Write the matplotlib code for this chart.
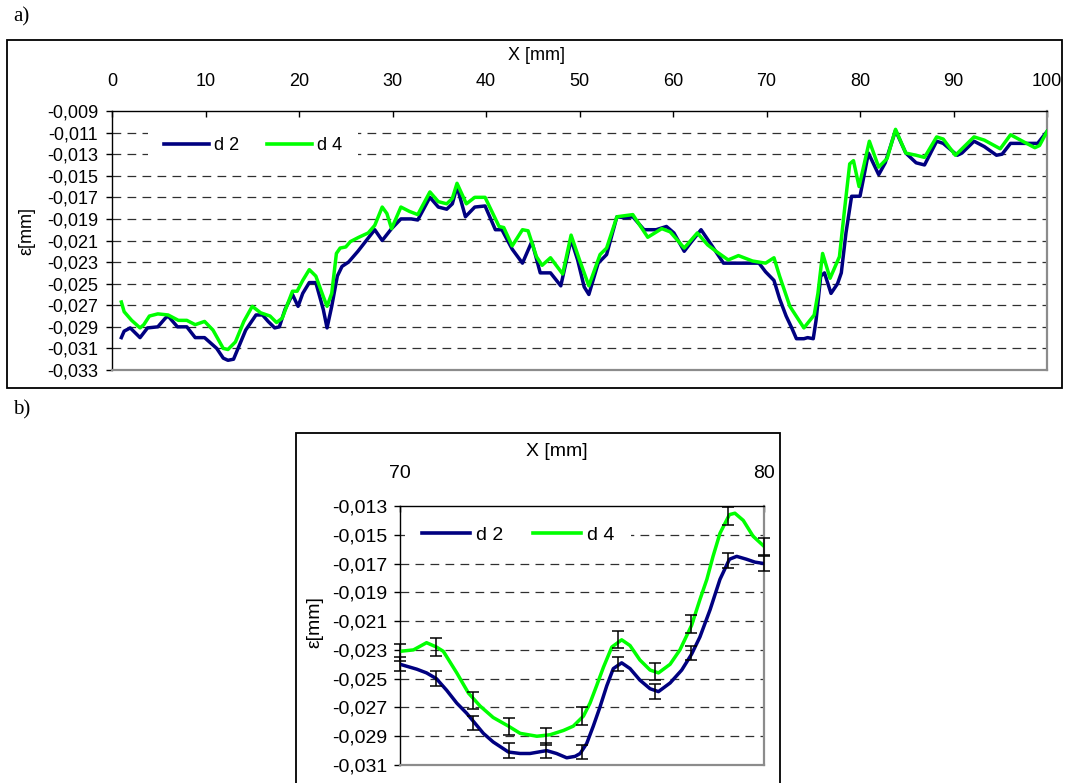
import matplotlib
matplotlib.use('Agg')
import matplotlib.pyplot as plt
from matplotlib.patches import Rectangle
from matplotlib.lines import Line2D
from matplotlib.ticker import FuncFormatter

plt.rcParams['font.family'] = ['Liberation Sans', 'DejaVu Sans']

# ---------------- data: chart a) ----------------
x_d2 = [1.0, 1.3, 1.95, 3.0, 3.8, 4.9, 5.7, 6.0, 7.0, 8.0,
        8.9, 9.9, 11.2, 11.9, 12.4, 13.0, 14.3, 15.4, 16.1, 16.7,
        17.4, 17.9, 18.5, 19.3, 19.9, 20.4, 21.1, 21.8, 22.6, 23.0,
        23.5, 24.1, 24.6, 25.3, 26.3, 27.2, 28.1, 28.9, 29.9, 30.9,
        32.0, 32.7, 34.0, 34.9, 35.8, 36.4, 36.9, 37.8, 38.8, 39.9,
        41.0, 41.7, 42.8, 43.9, 44.9, 45.8, 46.9, 48.0, 49.1, 49.8,
        50.5, 51.0, 52.0, 52.9, 54.0, 54.9, 55.7, 56.9, 58.2, 59.3,
        60.1, 61.2, 61.9, 63.0, 64.1, 65.4, 66.6, 68.1, 69.2, 69.9,
        70.8, 71.4, 72.1, 72.7, 73.2, 74.0, 74.4, 75.0, 75.3, 75.8,
        76.2, 76.9, 77.6, 78.0, 78.5, 79.1, 80.0, 80.9, 82.0, 82.7,
        83.8, 84.9, 86.0, 86.9, 88.2, 88.9, 90.4, 90.9, 92.2, 93.3,
        94.6, 95.2, 96.1, 97.4, 98.7, 99.0, 100.0]
d2 = [-0.0300, -0.0294, -0.0291, -0.0300, -0.0291, -0.0290, -0.0282, -0.0280, -0.0290, -0.0290,
      -0.0300, -0.0300, -0.0310, -0.0319, -0.0321, -0.0320, -0.0293, -0.0279, -0.0279, -0.0285,
      -0.0291, -0.0290, -0.0274, -0.0260, -0.0271, -0.0259, -0.0249, -0.0249, -0.0274, -0.0291,
      -0.0271, -0.0243, -0.0234, -0.0230, -0.0220, -0.0210, -0.0200, -0.0210, -0.0199, -0.0190,
      -0.0190, -0.0191, -0.0170, -0.0179, -0.0181, -0.0176, -0.0160, -0.0188, -0.0179, -0.0178,
      -0.0200, -0.0200, -0.0218, -0.0231, -0.0211, -0.0240, -0.0240, -0.0252, -0.0209, -0.0228,
      -0.0253, -0.0260, -0.0231, -0.0223, -0.0188, -0.0189, -0.0188, -0.0200, -0.0200, -0.0197,
      -0.0203, -0.0220, -0.0212, -0.0200, -0.0214, -0.0231, -0.0231, -0.0231, -0.0231, -0.0239,
      -0.0247, -0.0264, -0.0280, -0.0291, -0.0301, -0.0301, -0.0300, -0.0301, -0.0284, -0.0243,
      -0.0240, -0.0259, -0.0250, -0.0240, -0.0203, -0.0169, -0.0169, -0.0129, -0.0149, -0.0138,
      -0.0108, -0.0129, -0.0138, -0.0140, -0.0118, -0.0120, -0.0131, -0.0129, -0.0118, -0.0123,
      -0.0131, -0.0130, -0.0120, -0.0120, -0.0120, -0.0120, -0.0109]

x_d4 = [1.0, 1.3, 2.1, 3.0, 3.4, 4.0, 4.9, 6.0, 7.1, 8.0,
        8.9, 9.9, 10.8, 11.9, 12.4, 13.2, 14.1, 15.0, 15.9, 16.9,
        17.6, 18.2, 19.3, 19.8, 20.4, 21.1, 21.8, 22.6, 23.0, 23.5,
        24.0, 24.4, 25.0, 25.5, 26.4, 27.4, 28.1, 28.9, 29.4, 29.9,
        30.9, 31.8, 32.7, 34.0, 34.9, 35.8, 36.4, 36.9, 37.9, 38.8,
        39.9, 41.4, 41.9, 42.8, 43.9, 44.5, 45.4, 46.0, 46.9, 48.2,
        49.1, 50.0, 51.0, 52.2, 52.9, 54.0, 55.7, 57.3, 58.8, 59.7,
        61.2, 62.6, 63.7, 64.6, 65.9, 67.0, 68.5, 69.9, 70.8, 71.4,
        72.5, 74.0, 75.1, 75.5, 76.0, 76.8, 77.8, 78.3, 78.9, 79.3,
        79.9, 81.0, 82.0, 82.9, 83.8, 84.9, 86.0, 86.9, 88.2, 88.9,
        90.2, 92.2, 93.3, 95.0, 96.1, 97.6, 98.7, 99.2, 100.0]
d4 = [-0.0267, -0.0276, -0.0284, -0.0291, -0.0288, -0.0280, -0.0278, -0.0279, -0.0284, -0.0284,
      -0.0288, -0.0285, -0.0293, -0.0310, -0.0311, -0.0304, -0.0285, -0.0271, -0.0277, -0.0280,
      -0.0286, -0.0282, -0.0257, -0.0257, -0.0247, -0.0237, -0.0243, -0.0262, -0.0271, -0.0259,
      -0.0222, -0.0217, -0.0216, -0.0211, -0.0207, -0.0203, -0.0196, -0.0179, -0.0185, -0.0199,
      -0.0179, -0.0183, -0.0186, -0.0165, -0.0174, -0.0176, -0.0171, -0.0157, -0.0176, -0.0170,
      -0.0170, -0.0197, -0.0198, -0.0215, -0.0200, -0.0201, -0.0225, -0.0233, -0.0226, -0.0241,
      -0.0205, -0.0228, -0.0252, -0.0223, -0.0217, -0.0188, -0.0186, -0.0207, -0.0199, -0.0202,
      -0.0217, -0.0203, -0.0214, -0.0220, -0.0228, -0.0224, -0.0229, -0.0231, -0.0226, -0.0243,
      -0.0271, -0.0291, -0.0279, -0.0259, -0.0222, -0.0245, -0.0225, -0.0185, -0.0139, -0.0136,
      -0.0160, -0.0118, -0.0142, -0.0134, -0.0107, -0.0129, -0.0131, -0.0133, -0.0114, -0.0116,
      -0.0131, -0.0114, -0.0117, -0.0125, -0.0112, -0.0119, -0.0124, -0.0122, -0.0109]

a_xticks = [0, 10, 20, 30, 40, 50, 60, 70, 80, 90, 100]
a_yticks = [-0.033, -0.031, -0.029, -0.027, -0.025, -0.023, -0.021,
            -0.019, -0.017, -0.015, -0.013, -0.011, -0.009]

# ---------------- data: chart b) ----------------
xb_d2 = [70.0, 70.46, 70.73, 71.0, 71.28, 71.56, 71.83, 72.06, 72.29, 72.56,
         72.98, 73.3, 73.57, 74.03, 74.3, 74.58, 74.81, 74.95, 75.13, 75.31,
         75.49, 75.68, 75.86, 76.09, 76.32, 76.59, 76.87, 77.1, 77.42, 77.74,
         78.01, 78.24, 78.52, 78.79, 79.05, 79.25, 79.52, 79.75, 80.0]
yb_d2 = [-0.0240, -0.02434, -0.0246, -0.0250, -0.0258, -0.0267, -0.0274, -0.0281, -0.0288, -0.0294,
         -0.0301, -0.0302, -0.0302, -0.0300, -0.0302, -0.0305, -0.0304, -0.0302, -0.0295, -0.0283,
         -0.0270, -0.0255, -0.0243, -0.0239, -0.0243, -0.0251, -0.0257, -0.0259, -0.0253, -0.0244,
         -0.0233, -0.0221, -0.0202, -0.0181, -0.0167, -0.0165, -0.0167, -0.0169, -0.0170]
xb_d4 = [70.0, 70.37, 70.73, 71.0, 71.19, 71.56, 71.88, 72.2, 72.56, 72.98,
         73.3, 73.76, 74.12, 74.49, 74.76, 75.04, 75.22, 75.4, 75.59, 75.82,
         76.09, 76.32, 76.59, 76.87, 77.1, 77.42, 77.69, 78.01, 78.24, 78.43,
         78.6, 78.79, 79.05, 79.2, 79.43, 79.7, 80.0]
yb_d4 = [-0.0231, -0.0230, -0.0225, -0.0228, -0.0231, -0.0246, -0.0260, -0.0269, -0.0277, -0.0283,
         -0.0288, -0.0290, -0.0289, -0.0286, -0.0283, -0.0276, -0.0267, -0.0255, -0.0242, -0.0228,
         -0.0223, -0.0227, -0.0237, -0.0244, -0.0246, -0.0240, -0.0230, -0.0213, -0.0195, -0.0181,
         -0.0165, -0.0149, -0.0136, -0.0135, -0.0140, -0.0151, -0.0158]

err_x = [70, 71, 72, 73, 74, 75, 76, 77, 78, 79, 80]
err_d2 = [-0.0240, -0.0250, -0.0281, -0.0300, -0.0300, -0.0301, -0.0240, -0.0259, -0.0232, -0.0168, -0.0170]
err_d4 = [-0.0232, -0.0228, -0.0265, -0.0283, -0.0290, -0.0276, -0.0223, -0.0245, -0.0212, -0.0137, -0.0158]
sd_d2 = [0.0005] * 11
sd_d4 = [0.0006] * 11

b_xticks = [70, 80]
b_yticks = [-0.031, -0.029, -0.027, -0.025, -0.023, -0.021, -0.019,
            -0.017, -0.015, -0.013]

series_names = ['d 2', 'd 4']
NAVY = '#000080'
GREEN = '#00FF00'

# ---------------- figure ----------------
W, H = 1066, 783
fig = plt.figure(figsize=(W / 100, H / 100), dpi=100)


def fx(px):
    return px / W


def fy(py):
    return 1 - py / H


def frame(x0, y0, x1, y1):
    fig.patches.append(Rectangle((fx(x0), fy(y1)), fx(x1) - fx(x0), fy(y0) - fy(y1),
                                 transform=fig.transFigure, fill=False,
                                 ec='black', lw=1.3, zorder=0))


fmt = FuncFormatter(lambda v, p: f"{v:.3f}".replace('.', ','))
GRID_DASH = (0, (7, 5))


def style_axes(ax, xlim, ylim, xticks, yticks, fs, xpad, ypad):
    ax.set_xlim(*xlim)
    ax.set_ylim(*ylim)
    ax.xaxis.tick_top()
    ax.set_xticks(xticks)
    ax.set_yticks(yticks)
    ax.yaxis.set_major_formatter(fmt)
    ax.tick_params(axis='x', direction='in', length=4, width=1, pad=xpad,
                   labelsize=fs, colors='black')
    ax.tick_params(axis='y', direction='out', length=4, width=1, pad=ypad,
                   labelsize=fs)
    for t in yticks[1:-1]:
        ax.axhline(t, color='#303030', lw=0.9, ls=GRID_DASH, zorder=1)
    ax.spines['top'].set_color('black')
    ax.spines['left'].set_color('black')
    ax.spines['top'].set_linewidth(1.0)
    ax.spines['left'].set_linewidth(1.0)
    ax.spines['right'].set_color('#8c8c8c')
    ax.spines['bottom'].set_color('#8c8c8c')
    ax.spines['right'].set_linewidth(1.6)
    ax.spines['bottom'].set_linewidth(1.6)


def legend(ax, cx, cy, fs):
    handles = [Line2D([], [], color=NAVY, lw=2.6),
               Line2D([], [], color=GREEN, lw=2.6)]
    leg = ax.legend(handles, series_names, loc='center',
                    bbox_to_anchor=(fx(cx), fy(cy)), bbox_transform=fig.transFigure,
                    ncol=2, frameon=True, fancybox=False, edgecolor='none',
                    facecolor='white', framealpha=1, fontsize=fs,
                    handlelength=2.5, handletextpad=0.3, columnspacing=1.5,
                    borderpad=0.85, borderaxespad=0)
    leg.set_zorder(5)
    return leg


# ---- chart a) ----
frame(7, 40, 1062, 388)
ax1 = fig.add_axes([fx(112), fy(370), fx(1047) - fx(112), fy(111) - fy(370)])
style_axes(ax1, (0, 100), (-0.033, -0.009), a_xticks, a_yticks, 13, 15, 6)
ax1.plot(x_d2, d2, color=NAVY, lw=2.5, zorder=3, solid_joinstyle='round')
ax1.plot(x_d4, d4, color=GREEN, lw=2.5, zorder=4, solid_joinstyle='round')
legend(ax1, 253, 146, 13)
fig.text(fx(537), fy(56), 'X [mm]', ha='center', va='center', fontsize=13)
fig.text(fx(27), fy(231), 'ε[mm]', ha='center', va='center', rotation=90, fontsize=13)
fig.text(fx(13), fy(17), 'a)', ha='left', va='center', fontsize=15,
         family=['Liberation Serif', 'DejaVu Serif'])

# ---- chart b) ----
frame(296, 433, 780, 790)
ax2 = fig.add_axes([fx(400), fy(765), fx(764) - fx(400), fy(506) - fy(765)])
style_axes(ax2, (70, 80), (-0.031, -0.013), b_xticks, b_yticks, 14, 17, 5)
ax2.plot(xb_d2, yb_d2, color=NAVY, lw=2.5, zorder=3, solid_joinstyle='round')
ax2.plot(xb_d4, yb_d4, color=GREEN, lw=2.5, zorder=4, solid_joinstyle='round')
ax2.errorbar(err_x, err_d2, yerr=sd_d2, fmt='none', ecolor='black', elinewidth=1.1,
             capsize=4, capthick=1.1, zorder=6, clip_on=False)
ax2.errorbar(err_x, err_d4, yerr=sd_d4, fmt='none', ecolor='black', elinewidth=1.1,
             capsize=4, capthick=1.1, zorder=6, clip_on=False)
legend(ax2, 518, 535, 14)
fig.text(fx(557), fy(452), 'X [mm]', ha='center', va='center', fontsize=14)
fig.text(fx(315), fy(622), 'ε[mm]', ha='center', va='center', rotation=90, fontsize=14)
fig.text(fx(13), fy(410), 'b)', ha='left', va='center', fontsize=15,
         family=['Liberation Serif', 'DejaVu Serif'])

fig.savefig('out.png', dpi=100)
